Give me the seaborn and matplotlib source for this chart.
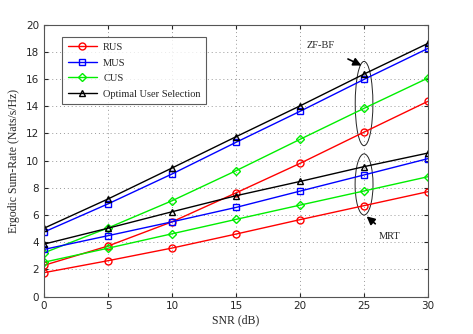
import numpy as np
import pandas as pd
import matplotlib
matplotlib.use("Agg")
import matplotlib.pyplot as plt
from matplotlib.patches import Ellipse
import seaborn as sns

snr = [0, 5, 10, 15, 20, 25, 30]

# ZF-BF curves
zf_rus = [2.3, 3.72, 5.5, 7.63, 9.8, 12.1, 14.37]
zf_mus = [4.75, 6.82, 9.02, 11.35, 13.63, 15.98, 18.26]
zf_cus = [3.22, 5.05, 7.05, 9.26, 11.57, 13.85, 16.08]
zf_opt = [5.03, 7.18, 9.46, 11.76, 14.03, 16.37, 18.63]

# MRT curves
mrt_rus = [1.76, 2.64, 3.57, 4.6, 5.66, 6.69, 7.72]
mrt_mus = [3.47, 4.48, 5.5, 6.56, 7.76, 8.95, 10.15]
mrt_cus = [2.53, 3.56, 4.62, 5.68, 6.73, 7.77, 8.82]
mrt_opt = [3.86, 5.03, 6.24, 7.42, 8.47, 9.56, 10.56]

labels = ["RUS", "MUS", "CUS", "Optimal User Selection"]
colors = ["#ff0000", "#0000ff", "#00ee00", "#000000"]
markers = ["o", "s", "D", "^"]
msizes = [5, 4.5, 4, 5]

sns.set_style("ticks")
plt.rcParams["font.family"] = ["DejaVu Sans"]

fig = plt.figure(figsize=(4.73, 3.34), dpi=100)
ax = fig.add_axes([0.093, 0.112, 0.812, 0.814])

zf = [zf_rus, zf_mus, zf_cus, zf_opt]
mrt = [mrt_rus, mrt_mus, mrt_cus, mrt_opt]

for group in (zf, mrt):
    for i, vals in enumerate(group):
        df = pd.DataFrame({"snr": snr, "rate": vals})
        sns.lineplot(data=df, x="snr", y="rate", ax=ax, color=colors[i],
                     marker=markers[i], markersize=msizes[i], markerfacecolor="none",
                     markeredgecolor=colors[i], markeredgewidth=1.0, linewidth=1.0,
                     label=labels[i] if group is zf else None)

ax.set_xlim(0, 30)
ax.set_ylim(0, 20)
ax.set_xticks([0, 5, 10, 15, 20, 25, 30])
ax.set_yticks(range(0, 21, 2))
ax.grid(True, linestyle=(0, (1, 3)), color="#999999", linewidth=0.7)
ax.tick_params(direction="in", top=True, right=True, labelsize=7.5, length=3)
for s in ax.spines.values():
    s.set_color("#555555")
    s.set_linewidth(0.8)

serif = ["Liberation Serif", "DejaVu Serif"]
ax.set_xlabel("SNR (dB)", family=serif, fontsize=8.5, labelpad=2)
ax.set_ylabel("Ergodic Sum-Rate (Nats/s/Hz)", family=serif, fontsize=8.5, labelpad=4)

leg = ax.legend(loc="upper left", bbox_to_anchor=(0.047, 0.955), borderaxespad=0,
                prop={"family": serif, "size": 7.5}, frameon=True, fancybox=False,
                edgecolor="#333333", borderpad=0.55, labelspacing=0.6, handlelength=2.8,
                handletextpad=0.6)
leg.get_frame().set_linewidth(0.8)

# ellipses
ax.add_patch(Ellipse((25, 14.2), 1.38, 6.2, fill=False, edgecolor="#222222", linewidth=0.7))
ax.add_patch(Ellipse((25, 8.25), 1.4, 4.5, fill=False, edgecolor="#222222", linewidth=0.7))

ax.annotate("ZF-BF", xy=(24.8, 17.0), xytext=(21.6, 18.45), family=serif, fontsize=7.5,
            ha="center", va="center",
            arrowprops=dict(arrowstyle="-|>", color="black", lw=1.2, shrinkA=9, shrinkB=0,
                            mutation_scale=12))
ax.annotate("MRT", xy=(25.2, 5.9), xytext=(27.0, 4.45), family=serif, fontsize=7.5,
            ha="center", va="center",
            arrowprops=dict(arrowstyle="-|>", color="black", lw=1.2, shrinkA=5, shrinkB=0,
                            mutation_scale=12))

fig.savefig("out.png", dpi=100)
